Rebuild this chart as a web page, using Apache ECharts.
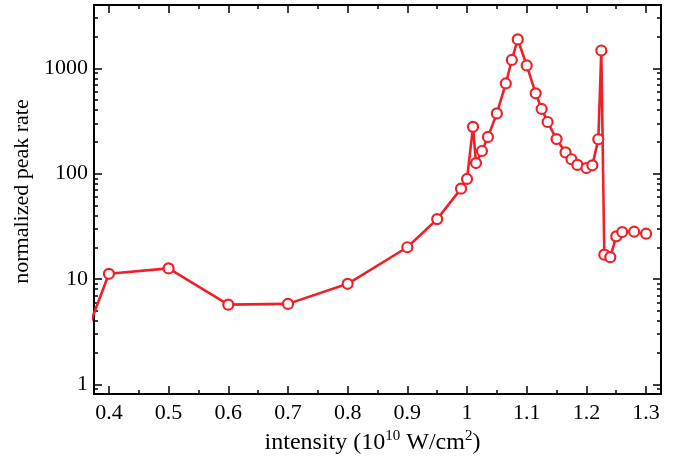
<!DOCTYPE html>
<html>
<head>
<meta charset="utf-8">
<script src="https://cdn.jsdelivr.net/npm/echarts@6/dist/echarts.min.js"></script>
<style>html,body{margin:0;padding:0;background:#fff;}#c{width:676px;height:463px;}</style>
</head>
<body>
<div id="c"></div>
<script>
// Data
const intensity = [0.35, 0.4, 0.5, 0.6, 0.7, 0.8, 0.9, 0.95, 0.99, 1.0, 1.01, 1.015, 1.025, 1.035, 1.05, 1.065, 1.075, 1.085, 1.1, 1.115, 1.125, 1.135, 1.15, 1.165, 1.175, 1.185, 1.2, 1.21, 1.22, 1.225, 1.23, 1.24, 1.25, 1.26, 1.28, 1.3];
const peakRate = [2.0, 11.2, 12.6, 5.7, 5.8, 9.0, 20.0, 37, 72, 89, 278, 126, 164, 223, 373, 718, 1200, 1880, 1064, 579, 411, 309, 213, 159, 137, 121, 113, 120, 212, 1476, 17.0, 16.1, 25.4, 27.9, 28.1, 26.9];
const xMajorTicks = [0.4, 0.5, 0.6, 0.7, 0.8, 0.9, 1.0, 1.1, 1.2, 1.3];
const xMinorTicks = [0.45, 0.55, 0.65, 0.75, 0.85, 0.95, 1.05, 1.15, 1.25];
const yMajorTicks = [1, 10, 100, 1000];
const yMinorTicks = [0.9, 2, 3, 4, 5, 6, 7, 8, 9, 20, 30, 40, 50, 60, 70, 80, 90, 200, 300, 400, 500, 600, 700, 800, 900, 2000, 3000];

const X_MIN = 0.375, X_MAX = 1.325, Y_MIN = 0.807, Y_MAX = 3990;
const FONT = 'Liberation Serif';
const RED = '#ee2128';

const points = intensity.map((x, i) => [x, peakRate[i]]);

function xAx(pos, ticks, len, labels, line) {
  return {
    type: 'value', position: pos, min: X_MIN, max: X_MAX,
    axisLine: { show: line, onZero: false, lineStyle: { color: '#000', width: 2 } },
    axisTick: { show: true, inside: true, length: len, customValues: ticks, lineStyle: { color: '#000', width: 1.5 } },
    axisLabel: labels ? { show: true, customValues: ticks, color: '#000', fontFamily: FONT, fontSize: 22, margin: 8,
      formatter: v => String(Math.round(v * 10) / 10) } : { show: false },
    splitLine: { show: false }
  };
}
function yAx(pos, ticks, len, labels, line) {
  return {
    type: 'log', position: pos, min: Y_MIN, max: Y_MAX, logBase: 10,
    axisLine: { show: line, onZero: false, lineStyle: { color: '#000', width: 2 } },
    axisTick: { show: true, inside: true, length: len, customValues: ticks, lineStyle: { color: '#000', width: 1.5 } },
    axisLabel: labels ? { show: true, customValues: ticks, color: '#000', fontFamily: FONT, fontSize: 22, margin: 6,
      formatter: v => String(Math.round(v)) } : { show: false },
    splitLine: { show: false }
  };
}

const xAxes = [
  xAx('bottom', xMajorTicks, 8, true, true),
  xAx('bottom', xMinorTicks, 4, false, false),
  xAx('top', xMajorTicks, 8, false, true),
  xAx('top', xMinorTicks, 4, false, false)
];
xAxes[0].name = '{a|intensity (10}{s|10}{a| W/cm}{s|2}{a|)}';
xAxes[0].nameLocation = 'middle';
xAxes[0].nameGap = 32;
xAxes[0].nameTextStyle = {
  padding: [0, 10, 0, 0],
  rich: {
    a: { fontFamily: FONT, fontSize: 24, color: '#000', lineHeight: 28 },
    s: { fontFamily: FONT, fontSize: 15, color: '#000', verticalAlign: 'top', lineHeight: 28, padding: [0, 0, 14, 0] }
  }
};

const yAxes = [
  yAx('left', yMajorTicks, 8, true, true),
  yAx('left', yMinorTicks, 4, false, false),
  yAx('right', yMajorTicks, 8, false, true),
  yAx('right', yMinorTicks, 4, false, false)
];
yAxes[0].name = 'normalized peak rate';
yAxes[0].nameLocation = 'middle';
yAxes[0].nameGap = 60;
yAxes[0].nameTextStyle = { fontFamily: FONT, fontSize: 22, color: '#000', padding: [0, 0, 0, 16] };

const chart = echarts.init(document.getElementById('c'), null, { renderer: 'canvas' });
chart.setOption({
  animation: false,
  backgroundColor: '#fff',
  grid: { left: 94, right: 15, top: 5, bottom: 62, containLabel: false },
  xAxis: xAxes,
  yAxis: yAxes,
  series: [{
    type: 'line',
    xAxisIndex: 0, yAxisIndex: 0,
    data: points,
    clip: true,
    showAllSymbol: true,
    symbol: 'circle',
    symbolSize: 10,
    itemStyle: { color: '#fff', borderColor: RED, borderWidth: 2.2 },
    lineStyle: { color: RED, width: 2.6 }
  }]
});
</script>
</body>
</html>
